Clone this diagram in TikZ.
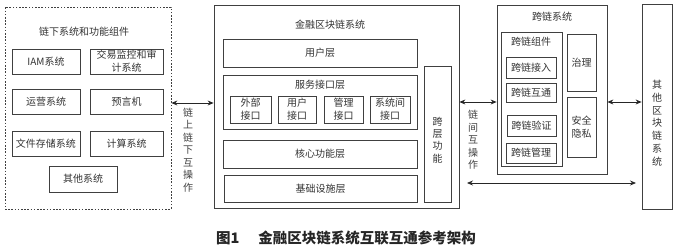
\documentclass[tikz,border=0pt]{standalone}
\usepackage{fontspec}
\setmainfont{Noto Sans CJK SC}
\usetikzlibrary{arrows.meta}
\tikzset{
  box/.style={draw=black!75, line width=0.8pt, inner sep=0pt, align=center, text=black!80,
    font=\fontsize{10}{13}\selectfont},
  dbox/.style={box, dash pattern=on 1.6pt off 1.6pt},
  ttl/.style={text=black!80, font=\fontsize{10}{13}\selectfont, inner sep=0pt},
  vlab/.style={text=black!75, font=\fontsize{10}{12.5}\selectfont, align=center, inner sep=0pt},
  arr/.style={{Stealth[length=6pt,width=5pt]}-{Stealth[length=6pt,width=5pt]}, line width=0.8pt, black!85},
  captxt/.style={font=\fontsize{14.5}{16}\selectfont\bfseries, text=black!85, inner sep=0pt}
}
\newcommand\mybox[7][box]{\node[#1, minimum width={(#5-#3)*1pt}, minimum height={(#6-#4)*1pt}]
  (#2) at ({(#3+#5)/2},{(#4+#6)/2}) {#7};}
\begin{document}
\begin{tikzpicture}[x=1pt,y=-1pt]
\useasboundingbox (0,0) rectangle (677,251);
% left dashed container
\mybox[dbox]{L}{5}{7}{171}{209}{}
\node[ttl] (Lt) at (84,32) {链下系统和功能组件};
\mybox{iam}{12}{49}{80}{74}{IAM系统}
\mybox{aud}{90}{49}{163}{74}{交易监控和审\\计系统}
\mybox{ops}{12}{89}{80}{114}{运营系统}
\mybox{orc}{90}{89}{163}{114}{预言机}
\mybox{fil}{12}{131}{80}{156}{文件存储系统}
\mybox{cmp}{90}{131}{163}{156}{计算系统}
\mybox{oth}{49}{166}{117}{192}{其他系统}
% main financial blockchain system
\mybox{M}{214}{5}{459}{208}{}
\node[ttl] (Mt) at (330,25) {金融区块链系统};
\mybox{usr}{223}{39}{417}{67}{用户层}
\mybox{svc}{223}{75}{417}{129}{}
\node[ttl] (svct) at (320,85) {服务接口层};
\mybox{ext}{230}{96}{271}{123}{外部\\接口}
\mybox{uif}{278}{96}{316}{123}{用户\\接口}
\mybox{mif}{324}{96}{363}{123}{管理\\接口}
\mybox{sif}{370}{96}{410}{123}{系统间\\接口}
\mybox{core}{223}{140}{417}{168}{核心功能层}
\mybox{infra}{224}{175}{417}{202}{基础设施层}
\mybox{xl}{424}{66}{451}{202}{}
\node[vlab, text=black!80, font=\fontsize{10}{12.2}\selectfont] (xlt) at (437.5,140) {跨\\层\\功\\能};
% cross-chain system
\mybox{CC}{497}{5}{607}{174}{}
\node[ttl] (CCt) at (552,17) {跨链系统};
\mybox{CP}{501}{32}{562}{166}{}
\node[ttl] (CPt) at (531,42) {跨链组件};
\mybox{jr}{506}{57}{556}{78}{跨链接入}
\mybox{ht}{506}{83}{556}{102}{跨链互通}
\mybox{yz}{507}{115}{556}{136}{跨链验证}
\mybox{gl}{506}{143}{556}{163}{跨链管理}
\mybox{zl}{567}{34}{596}{91}{治理}
\mybox{aq}{567}{97}{596}{157}{安全\\隐私}
% other blockchain systems
\mybox{OC}{642}{4}{672}{209}{}
\node[vlab, text=black!80, font=\fontsize{10}{12.8}\selectfont] (OCt) at (657,123) {其\\他\\区\\块\\链\\系\\统};
% connectors
\draw[arr] (L.east |- 0,103) -- (M.west |- 0,103);
\node[vlab] (l1) at (188,150) {链\\上\\链\\下\\互\\操\\作};
\draw[arr] (M.east |- 0,102) -- (CC.west |- 0,102);
\node[vlab] (l2) at (473,140) {链\\间\\互\\操\\作};
\draw[arr] (CC.east |- 0,102) -- (OC.west |- 0,102);
\coordinate (b1) at (467,183);
\coordinate (b2) at (636,183);
\draw[arr] (b1) -- (b2);
% caption
\node[captxt] (capnode) at (346,238) {图1\hspace{19pt}金融区块链系统互联互通参考架构};
\end{tikzpicture}
\end{document}
